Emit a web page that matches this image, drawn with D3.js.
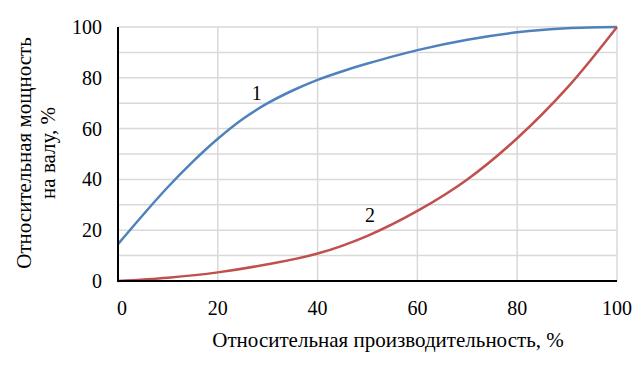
<!DOCTYPE html>
<html>
<head>
<meta charset="utf-8">
<script src="https://cdn.jsdelivr.net/npm/d3@7"></script>
<style>
  body { margin: 0; background: #fff; }
  svg text { font-family: "Liberation Serif", "Times New Roman", serif; fill: #000; }
  .grid line { stroke: #d9d9d9; stroke-width: 1.5; }
</style>
</head>
<body>
<svg id="chart" width="644" height="369"></svg>
<script>
// кривая 1
const xBlue = [0, 5, 10, 15, 20, 25, 30, 35, 40, 45, 50, 60, 70, 80, 90, 100];
const yBlue = [14.5, 26, 37, 47, 56, 63.8, 70, 75, 79.2, 82.6, 85.6, 90.9, 95, 97.9, 99.5, 100];
// кривая 2
const xRed = [0, 10, 20, 30, 40, 50, 60, 70, 80, 90, 100];
const yRed = [0, 1.3, 3.4, 6.6, 10.8, 17.8, 27.6, 40, 56.2, 76, 100];

const xTicks = [0, 20, 40, 60, 80, 100];
const yTicks = [0, 20, 40, 60, 80, 100];
const yGrid = [10, 20, 30, 40, 50, 60, 70, 80, 90, 100];
const curveLabels = [
    { text: "1", x: 27.8, y: 74 },
    { text: "2", x: 50.5, y: 26 }
];
const xTitle = "Относительная производительность, %";
const yTitle = ["Относительная мощность", "на валу, %"];

const margin = { top: 27, right: 27, bottom: 88, left: 118 };
const W = 644, H = 369;
const width = W - margin.left - margin.right;
const height = H - margin.top - margin.bottom;

const svg = d3.select('#chart');
const g = svg.append('g')
            .attr('transform', `translate(${margin.left},${margin.top})`);

const x = d3.scaleLinear().domain([0, 100]).range([0, width]);
const y = d3.scaleLinear().domain([0, 100]).range([height, 0]);

// сетка
const grid = g.append('g').attr('class', 'grid');
grid.selectAll('line.v')
    .data(xTicks.filter(d => d > 0))
    .join('line')
    .attr('class', 'v')
    .attr('x1', d => x(d)).attr('x2', d => x(d))
    .attr('y1', 0).attr('y2', height);
grid.selectAll('line.h')
    .data(yGrid)
    .join('line')
    .attr('class', 'h')
    .attr('x1', 0).attr('x2', width)
    .attr('y1', d => y(d)).attr('y2', d => y(d));

// линии
const line = d3.line()
            .x(d => x(d[0]))
            .y(d => y(d[1]))
            .curve(d3.curveCatmullRom.alpha(0.5));

g.append('path')
    .datum(xBlue.map((v, i) => [v, yBlue[i]]))
    .attr('d', line)
    .attr('fill', 'none')
    .attr('stroke', '#4f81bd')
    .attr('stroke-width', 2.5);

g.append('path')
    .datum(xRed.map((v, i) => [v, yRed[i]]))
    .attr('d', line)
    .attr('fill', 'none')
    .attr('stroke', '#c0504d')
    .attr('stroke-width', 2.5);

// оси
g.append('line')
    .attr('x1', 0).attr('x2', 0)
    .attr('y1', 0).attr('y2', height)
    .attr('stroke', '#000').attr('stroke-width', 2);
g.append('line')
    .attr('x1', -1).attr('x2', width)
    .attr('y1', height).attr('y2', height)
    .attr('stroke', '#000').attr('stroke-width', 2);

g.selectAll('text.ytick')
    .data(yTicks)
    .join('text')
    .attr('class', 'ytick')
    .attr('x', -16)
    .attr('y', d => y(d))
    .attr('dy', '0.35em')
    .attr('text-anchor', 'end')
    .style('font-size', '20px')
    .text(d => d);

g.selectAll('text.xtick')
    .data(xTicks)
    .join('text')
    .attr('class', 'xtick')
    .attr('x', d => x(d) + (d === 0 ? 4 : 0))
    .attr('y', height + 34)
    .attr('text-anchor', 'middle')
    .style('font-size', '20px')
    .text(d => d);

// подписи кривых
g.selectAll('text.clabel')
    .data(curveLabels)
    .join('text')
    .attr('class', 'clabel')
    .attr('x', d => x(d.x))
    .attr('y', d => y(d.y))
    .attr('dy', '0.35em')
    .attr('text-anchor', 'middle')
    .style('font-size', '20px')
    .text(d => d.text);

// заголовки осей
svg.append('text')
    .attr('x', 388)
    .attr('y', 347)
    .attr('text-anchor', 'middle')
    .style('font-size', '21px')
    .text(xTitle);

svg.append('text')
    .attr('transform', 'translate(31,153) rotate(-90)')
    .attr('text-anchor', 'middle')
    .style('font-size', '21px')
    .selectAll('tspan')
    .data(yTitle)
    .join('tspan')
    .attr('x', 0)
    .attr('dy', (d, i) => i === 0 ? 0 : 24)
    .text(d => d);
</script>
</body>
</html>
